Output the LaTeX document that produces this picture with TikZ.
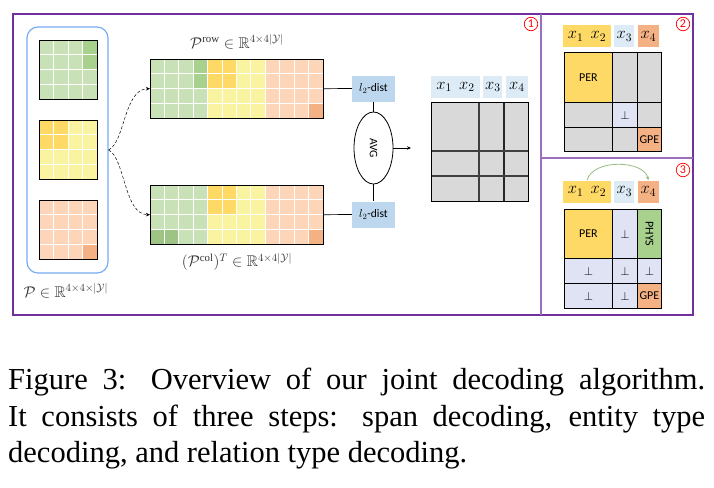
\RequirePackage{fix-cm}
\documentclass[tikz,border=0pt]{standalone}
\usepackage{amsmath,amssymb}
\usepackage{fontspec}
\setmainfont{Liberation Serif}
\newfontfamily\calibri{Carlito}
\usetikzlibrary{shapes.geometric, arrows.meta, positioning}

\definecolor{lgreen}{HTML}{C8E1B6}
\definecolor{dgreen}{HTML}{A9D18E}
\definecolor{dgreenb}{HTML}{9DC385}
\definecolor{lyellow}{HTML}{FAF3A0}
\definecolor{dyellow}{HTML}{FFD966}
\definecolor{lorange}{HTML}{FDD5B8}
\definecolor{dorange}{HTML}{F4B183}
\definecolor{distblue}{HTML}{BDD7EE}
\definecolor{hblue}{HTML}{DDEBF7}
\definecolor{cellgray}{HTML}{D9D9D9}
\definecolor{nullblue}{HTML}{DFE3F4}
\definecolor{setblue}{HTML}{78ACF5}
\definecolor{framepurple}{HTML}{7030A0}

\begin{document}
\begin{tikzpicture}[x=1pt, y=-1pt,
    mat/.style={rectangle, inner sep=0pt, anchor=north west},
    edge/.style={line width=0.9pt},
    gridline/.style={white, line width=1pt},
    dist/.style={rectangle, fill=distblue, minimum width=43pt, minimum height=26pt, inner sep=0pt, font=\calibri\fontsize{11.5}{13}\selectfont},
    hd/.style={rectangle, minimum height=22pt, inner sep=0pt, font=\fontsize{16.5}{18}\selectfont},
    cell/.style={rectangle, draw=black, line width=0.9pt, inner sep=0pt, anchor=north west, fill=cellgray, font=\calibri\fontsize{12}{13}\selectfont},
    num/.style={circle, draw=red, text=red, line width=0.7pt, minimum size=13.5pt, inner sep=0pt, font=\calibri\fontsize{12}{12}\selectfont},
    lbl/.style={text=black!80, font=\fontsize{15.5}{18}\selectfont},
    flow/.style={densely dashed, line width=0.5pt, -{Stealth[length=4pt, width=3.5pt]}},
    link/.style={line width=0.7pt},
    arrow/.style={line width=0.7pt, -{Stealth[length=4pt, width=3.5pt]}}
]
\useasboundingbox (0,0) rectangle (714,487);

% frame and panels
\draw[framepurple, line width=1.1pt] (13,14) rectangle (693,315);
\draw[framepurple!70, line width=1.4pt] (541,14) -- (541,315);
\draw[framepurple!70, line width=1.2pt] (541,158) -- (693,158);
\node[num] (n1) at (531,24) {1};
\node[num] (n2) at (683,24) {2};
\node[num] (n3) at (683,170) {3};

% score tables per type
\node[draw=setblue, line width=1.2pt, rounded corners=11pt, minimum width=81pt, minimum height=246pt] (pset) at (67.5,150) {};
\node[mat, fill=lgreen, minimum width=58pt, minimum height=59pt] (pgreen) at (39,40) {};
\node[mat, fill=lyellow, minimum width=58pt, minimum height=59pt] (pyellow) at (39,120) {};
\node[mat, fill=lorange, minimum width=58pt, minimum height=59pt] (porange) at (39,200) {};
\fill[dgreen] (82.5,40) rectangle ++(14.5,29.5);
\fill[dyellow] (39,120) rectangle ++(29,29.5);
\fill[dorange] (82.5,244.25) rectangle ++(14.5,14.75);
\foreach \t in {40,120,200} {
  \foreach \i in {1,2,3} {
    \draw[gridline] ({39+14.5*\i},\t) -- ++(0,59);
    \draw[gridline] (39,{\t+14.75*\i}) -- ++(58,0);
  }
}
\foreach \n in {pgreen,pyellow,porange}
  \draw[edge] (\n.north west) rectangle (\n.south east);
\node[lbl, anchor=west] (lpset) at (20,291) {$\mathcal{P} \in \mathbb{R}^{4\times4\times|\mathcal{Y}|}$};

% row and column views
\node[mat, minimum width=173pt, minimum height=59pt] (prow) at (150,59) {};
\node[mat, minimum width=173pt, minimum height=59pt] (pcol) at (150,185) {};
\foreach \t in {59,185} {
  \fill[lgreen] (150,\t) rectangle ++(57.67,59);
  \fill[lyellow] (207.67,\t) rectangle ++(57.67,59);
  \fill[lorange] (265.33,\t) rectangle ++(57.67,59);
  \fill[dyellow] (207.67,\t) rectangle ++(28.83,29.5);
  \fill[dorange] (308.58,\t+44.25) rectangle ++(14.42,14.75);
}
\fill[dgreen] (193.25,59) rectangle ++(14.42,29.5);
\fill[dgreenb] (150,229.25) rectangle ++(28.83,14.75);
\foreach \t in {59,185} {
  \foreach \i in {1,...,11}
    \draw[gridline] ({150+14.4167*\i},\t) -- ++(0,59);
  \foreach \i in {1,2,3}
    \draw[gridline] (150,{\t+14.75*\i}) -- ++(173,0);
}
\draw[edge] (prow.north west) rectangle (prow.south east);
\draw[edge] (pcol.north west) rectangle (pcol.south east);
\node[lbl] (lprow) at (237,42) {$\mathcal{P}^{\mathrm{row}} \in \mathbb{R}^{4\times4|\mathcal{Y}|}$};
\node[lbl] (lpcol) at (237,262) {$(\mathcal{P}^{\mathrm{col}})^T \in \mathbb{R}^{4\times4|\mathcal{Y}|}$};

\draw[flow] (pset.east) .. controls (125,142) and (124,89) .. (prow.west);
\draw[flow] (pset.east) .. controls (125,158) and (124,214.5) .. (pcol.west);

% distance and averaging
\node[dist] (l2top) at (373.5,88.5) {$l_2$-dist};
\node[dist] (l2bot) at (373.5,214.5) {$l_2$-dist};
\node[ellipse, draw=black, line width=0.8pt, minimum width=39pt, minimum height=72pt, inner sep=0pt, font=\calibri\fontsize{11.5}{13}\selectfont] (avg) at (373.5,148) {\rotatebox{-90}{AVG}};
\coordinate (avgout) at (411,148);
\draw[link] (prow.east) -- (l2top.west);
\draw[link] (pcol.east) -- (l2bot.west);
\draw[link] (l2top.south) -- (avg.north);
\draw[link] (avg.south) -- (l2bot.north);
\draw[arrow] (avg.east) -- (avgout);

% span decoding result
\node[hd, fill=hblue, minimum width=49pt] (r12) at (455.5,87) {$x_1\;\,x_2$};
\node[hd, fill=hblue, minimum width=19pt, right=3pt of r12] (r3) {$x_3$};
\node[hd, fill=hblue, minimum width=22pt, right=3pt of r3] (r4) {$x_4$};
\node[mat, fill=cellgray, minimum width=97pt, minimum height=99pt] (res) at (431,102) {};
\draw[black!75, line width=1.2pt] (479,102) -- (479,201);
\draw[black!85, line width=1.4pt] (504,102) -- (504,201);
\draw[black!75, line width=1.2pt] (431,151) -- (528,151);
\draw[black!75, line width=1.2pt] (431,176) -- (528,176);
\draw[edge] (res.north west) rectangle (res.south east);

% entity type decoding
\node[hd, fill=dyellow, minimum width=48pt] (e12) at (587,36.5) {$x_1\;\,x_2$};
\node[hd, fill=hblue, minimum width=20pt, right=3pt of e12] (e3) {$x_3$};
\node[hd, fill=dorange, minimum width=21pt, right=3pt of e3] (e4) {$x_4$};
\node[cell, fill=dyellow, minimum width=48pt, minimum height=50pt] (ea) at (564,52) {PER};
\node[cell, minimum width=25pt, minimum height=50pt] (eb) at (612,52) {};
\node[cell, minimum width=24pt, minimum height=50pt] (ec) at (637,52) {};
\node[cell, minimum width=48pt, minimum height=25pt] (ed) at (564,102) {};
\node[cell, fill=nullblue, minimum width=25pt, minimum height=25pt] (ee) at (612,102) {$\perp$};
\node[cell, minimum width=24pt, minimum height=25pt] (ef) at (637,102) {};
\node[cell, minimum width=48pt, minimum height=24pt] (eg) at (564,127) {};
\node[cell, minimum width=25pt, minimum height=24pt] (eh) at (612,127) {};
\node[cell, fill=dorange, minimum width=24pt, minimum height=24pt] (ei) at (637,127) {GPE};

% relation type decoding
\node[hd, fill=dyellow, minimum width=48pt] (t12) at (587,191.5) {$x_1\;\,x_2$};
\node[hd, fill=hblue, minimum width=20pt, right=3pt of t12] (t3) {$x_3$};
\node[hd, fill=dorange, minimum width=21pt, right=3pt of t3] (t4) {$x_4$};
\node[cell, fill=dyellow, minimum width=48pt, minimum height=49pt] (ta) at (564,209) {PER};
\node[cell, fill=nullblue, minimum width=25pt, minimum height=49pt] (tb) at (612,209) {$\perp$};
\node[cell, fill=dgreen, minimum width=24pt, minimum height=49pt] (tc) at (637,209) {\rotatebox{-90}{PHYS}};
\node[cell, fill=nullblue, minimum width=48pt, minimum height=25pt] (td) at (564,258) {$\perp$};
\node[cell, fill=nullblue, minimum width=25pt, minimum height=25pt] (te) at (612,258) {$\perp$};
\node[cell, fill=nullblue, minimum width=24pt, minimum height=25pt] (tf) at (637,258) {$\perp$};
\node[cell, fill=nullblue, minimum width=48pt, minimum height=25pt] (tg) at (564,283) {$\perp$};
\node[cell, fill=nullblue, minimum width=25pt, minimum height=25pt] (th) at (612,283) {$\perp$};
\node[cell, fill=dorange, minimum width=24pt, minimum height=25pt] (ti) at (637,283) {GPE};
\draw[dgreen!90!black, line width=0.8pt, -{Stealth[length=4pt, width=3.5pt]}] (t12.north) .. controls +(6,-22) and +(-4,-20) .. (t4.north);

% caption
\node[anchor=north west, text width=697pt, align=justify, inner sep=0pt, font=\fontsize{30.5}{36.5}\selectfont] (cap) at (8,368) {Figure 3: Overview of our joint decoding algorithm.\linebreak It consists of three steps: span decoding, entity type\linebreak decoding, and relation type decoding.};
\end{tikzpicture}
\end{document}
